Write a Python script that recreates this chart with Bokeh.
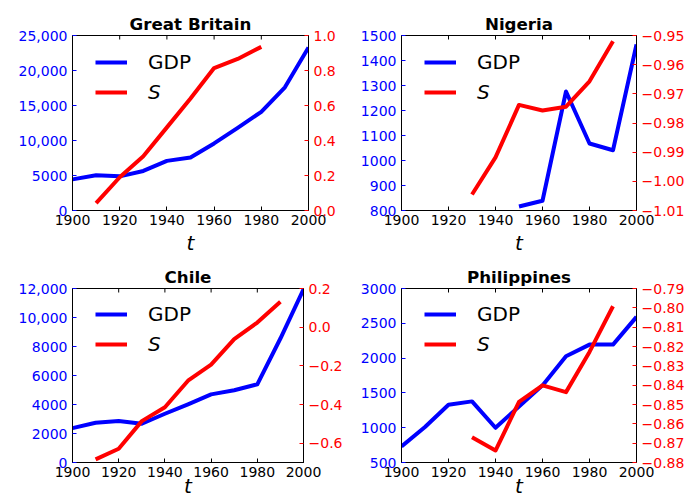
import math
from bokeh.plotting import figure
from bokeh.models import Range1d, LinearAxis, FixedTicker, Legend, LegendItem
from bokeh.layouts import column, row
from bokeh.embed import file_html
from bokeh.resources import INLINE

# ---------------- data ----------------
YEARS = [1900, 1910, 1920, 1930, 1940, 1950, 1960, 1970, 1980, 1990, 2000]
X_TICKS = [1900, 1920, 1940, 1960, 1980, 2000]

GB_GDP_YEARS = YEARS
GB_GDP = [4450, 5030, 4880, 5650, 7090, 7570, 9580, 11800, 14100, 17600, 23300]
GB_S_YEARS = [1910, 1920, 1930, 1940, 1950, 1960, 1970, 1980]
GB_S = [0.042, 0.19, 0.31, 0.475, 0.64, 0.814, 0.866, 0.935]
GB_GDP_TICKS = [0, 5000, 10000, 15000, 20000, 25000]
GB_GDP_LABELS = ["0", "5000", "10,000", "15,000", "20,000", "25,000"]
GB_S_RANGE = [0.0, 1.0]
GB_S_TICKS = [0.0, 0.2, 0.4, 0.6, 0.8, 1.0]
GB_S_LABELS = ["0.0", "0.2", "0.4", "0.6", "0.8", "1.0"]

NG_GDP_YEARS = [1950, 1960, 1970, 1980, 1990, 2000]
NG_GDP = [816, 839, 1276, 1068, 1041, 1464]
NG_S_YEARS = [1930, 1940, 1950, 1960, 1970, 1980, 1990]
NG_S = [-1.0045, -0.9918, -0.9738, -0.9757, -0.9744, -0.9657, -0.952]
NG_GDP_TICKS = [800, 900, 1000, 1100, 1200, 1300, 1400, 1500]
NG_GDP_LABELS = ["800", "900", "1000", "1100", "1200", "1300", "1400", "1500"]
NG_S_RANGE = [-1.01, -0.95]
NG_S_TICKS = [-1.01, -1.0, -0.99, -0.98, -0.97, -0.96, -0.95]
NG_S_LABELS = ["\u22121.01", "\u22121.00", "\u22120.99", "\u22120.98", "\u22120.97", "\u22120.96", "\u22120.95"]

CL_GDP_YEARS = YEARS
CL_GDP = [2370, 2740, 2860, 2670, 3360, 4010, 4700, 4980, 5390, 8550, 11940]
CL_S_YEARS = [1910, 1920, 1930, 1940, 1950, 1960, 1970, 1980, 1990]
CL_S = [-0.684, -0.629, -0.486, -0.414, -0.277, -0.194, -0.062, 0.024, 0.131]
CL_GDP_TICKS = [0, 2000, 4000, 6000, 8000, 10000, 12000]
CL_GDP_LABELS = ["0", "2000", "4000", "6000", "8000", "10,000", "12,000"]
CL_S_RANGE = [-0.7, 0.2]
CL_S_TICKS = [-0.6, -0.4, -0.2, 0.0, 0.2]
CL_S_LABELS = ["\u22120.6", "\u22120.4", "\u22120.2", "0.0", "0.2"]

PH_GDP_YEARS = YEARS
PH_GDP = [730, 1009, 1330, 1378, 999, 1306, 1608, 2026, 2194, 2194, 2592]
PH_S_YEARS = [1930, 1940, 1950, 1960, 1970, 1980, 1990]
PH_S = [-0.8669, -0.8738, -0.8487, -0.8401, -0.8436, -0.8228, -0.7992]
PH_GDP_TICKS = [500, 1000, 1500, 2000, 2500, 3000]
PH_GDP_LABELS = ["500", "1000", "1500", "2000", "2500", "3000"]
PH_S_RANGE = [-0.88, -0.79]
PH_S_TICKS = [-0.88, -0.87, -0.86, -0.85, -0.84, -0.83, -0.82, -0.81, -0.80, -0.79]
PH_S_LABELS = ["\u22120.88", "\u22120.87", "\u22120.86", "\u22120.85", "\u22120.84",
               "\u22120.83", "\u22120.82", "\u22120.81", "\u22120.80", "\u22120.79"]

FONT = "DejaVu Sans"
BLUE = "#0000ff"
RED = "#ff0000"


def style_axis(ax, ticks, labels, color):
    ax.ticker = FixedTicker(ticks=ticks)
    ax.major_label_overrides = {t: l for t, l in zip(ticks, labels)}
    ax.major_label_text_color = color
    ax.major_label_text_font = FONT
    ax.major_label_text_font_size = "14px"
    ax.major_tick_in = 4
    ax.major_tick_out = 0
    ax.minor_tick_line_color = None
    ax.major_tick_line_color = color
    ax.axis_line_color = "black"
    ax.major_label_standoff = 5


def panel(title, gx, gy, sx, sy, g_ticks, g_labels, s_range, s_ticks, s_labels,
          width, height, bl, br, bt, bb, t_standoff):
    p = figure(width=width, height=height, output_backend="svg", toolbar_location=None,
               x_range=Range1d(X_TICKS[0], X_TICKS[-1]),
               y_range=Range1d(g_ticks[0], g_ticks[-1]),
               min_border_left=bl, min_border_right=br,
               min_border_top=bt, min_border_bottom=bb)
    p.extra_y_ranges = {"s": Range1d(s_range[0], s_range[1])}
    p.grid.visible = False
    p.outline_line_color = "black"
    p.outline_line_width = 1
    p.background_fill_color = "white"
    p.border_fill_color = "white"

    p.title.text = title
    p.title.align = "center"
    p.title.text_font = FONT
    p.title.text_font_size = "16.7px"
    p.title.text_font_style = "bold"
    p.title.text_color = "black"
    p.title.standoff = 3

    # bottom x-axis
    xa = p.xaxis[0]
    xa.ticker = FixedTicker(ticks=X_TICKS)
    xa.major_label_text_font = FONT
    xa.major_label_text_font_size = "14px"
    xa.major_label_text_color = "black"
    xa.major_tick_in = 4
    xa.major_tick_out = 0
    xa.major_tick_line_color = "black"
    xa.minor_tick_line_color = None
    xa.major_label_standoff = 4
    xa.axis_line_color = "black"
    xa.axis_label = "t"
    xa.axis_label_text_font = FONT
    xa.axis_label_text_font_size = "20px"
    xa.axis_label_text_font_style = "italic"
    xa.axis_label_text_color = "black"
    xa.axis_label_standoff = t_standoff

    # mirrored tick marks along the top edge (half of each dash is clipped by the frame)
    p.scatter(X_TICKS, [g_ticks[-1]] * len(X_TICKS), marker="dash", size=8,
              angle=math.pi / 2, line_color="black", line_width=1)

    # left y-axis (GDP)
    style_axis(p.yaxis[0], g_ticks, g_labels, BLUE)

    # right y-axis (S)
    ra = LinearAxis(y_range_name="s")
    style_axis(ra, s_ticks, s_labels, RED)
    p.add_layout(ra, "right")

    r1 = p.line(gx, gy, line_color=BLUE, line_width=4, line_join="round")
    r2 = p.line(sx, sy, line_color=RED, line_width=4, line_join="round", y_range_name="s")

    common = dict(border_line_alpha=0, background_fill_alpha=0, glyph_width=32,
                  glyph_height=24, label_height=24, label_standoff=21,
                  label_text_font=FONT, label_text_font_size="20px",
                  label_text_color="black",
                  padding=0, spacing=0, margin=0)
    l1 = Legend(items=[LegendItem(label="GDP", renderers=[r1])], location=(23, 136), **common)
    l2 = Legend(items=[LegendItem(label="S", renderers=[r2])], location=(23, 106),
                label_text_font_style="italic", **common)
    p.add_layout(l1)
    p.add_layout(l2)
    return p


p1 = panel("Great Britain", GB_GDP_YEARS, GB_GDP, GB_S_YEARS, GB_S,
           GB_GDP_TICKS, GB_GDP_LABELS, GB_S_RANGE, GB_S_TICKS, GB_S_LABELS,
           345, 261, 72, 37, 35, 51, 3)
p2 = panel("Nigeria", NG_GDP_YEARS, NG_GDP, NG_S_YEARS, NG_S,
           NG_GDP_TICKS, NG_GDP_LABELS, NG_S_RANGE, NG_S_TICKS, NG_S_LABELS,
           342, 261, 56, 50, 35, 51, 3)
p3 = panel("Chile", CL_GDP_YEARS, CL_GDP, CL_S_YEARS, CL_S,
           CL_GDP_TICKS, CL_GDP_LABELS, CL_S_RANGE, CL_S_TICKS, CL_S_LABELS,
           345, 239, 72, 37, 27, 38, -6)
p4 = panel("Philippines", PH_GDP_YEARS, PH_GDP, PH_S_YEARS, PH_S,
           PH_GDP_TICKS, PH_GDP_LABELS, PH_S_RANGE, PH_S_TICKS, PH_S_LABELS,
           342, 239, 56, 50, 27, 38, -6)

layout = column(row(p1, p2), row(p3, p4))
open("out.html", "w").write(file_html(layout, INLINE))
